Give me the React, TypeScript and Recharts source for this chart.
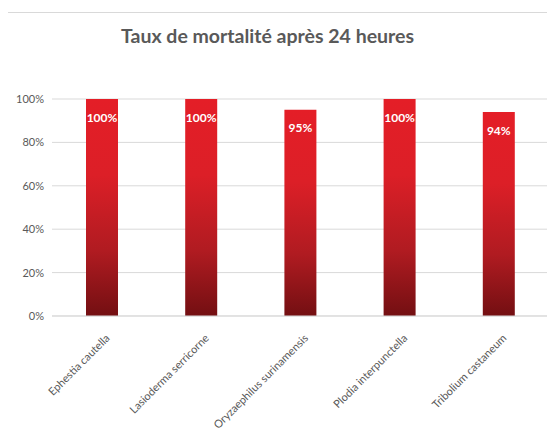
import { BarChart, Bar, XAxis, YAxis, CartesianGrid, LabelList, Customized } from "recharts";

const species = [
  "Ephestia cautella",
  "Lasioderma serricorne",
  "Oryzaephilus surinamensis",
  "Plodia interpunctella",
  "Tribolium castaneum",
];
const mortality = [1.0, 1.0, 0.95, 1.0, 0.94];
const yTicks = [0, 0.2, 0.4, 0.6, 0.8, 1.0];

const data = species.map((name, i) => ({ name, value: mortality[i] }));

const pct = (v: number) => `${Math.round(v * 100)}%`;

const font = "Lato, 'Open Sans', sans-serif";

function SpeciesTick({ x, y, payload }: any) {
  return (
    <g transform={`translate(${x + 6},${y + 12})`}>
      <text
        textAnchor="end"
        transform="rotate(-45)"
        fontSize={11}
        fill="#595959"
        fontFamily={font}
        dy={4}
      >
        {payload.value}
      </text>
    </g>
  );
}

function Frame() {
  return <path d="M5.5,437 V12.5 H555" fill="none" stroke="#d9d9d9" strokeWidth={1} />;
}

export default function App() {
  return (
    <div style={{ position: "relative", margin: -8, width: 555, height: 437, overflow: "hidden", background: "#fff" }}>
      <div
        style={{
          position: "absolute",
          left: 0,
          top: 24,
          width: 535,
          textAlign: "center",
          fontFamily: font,
          fontWeight: 700,
          fontSize: 19.5,
          color: "#595959",
        }}
      >
        Taux de mortalité après 24 heures
      </div>
      <div style={{ position: "absolute", left: 0, top: 0 }}>
        <BarChart
          width={555}
          height={437}
          data={data}
          margin={{ top: 99, right: 7, bottom: 0, left: 0 }}
        >
          <defs>
            <linearGradient id="redFade" x1="0" y1="0" x2="0" y2="1">
              <stop offset="0%" stopColor="#e41e27" />
              <stop offset="35%" stopColor="#dc1f27" />
              <stop offset="70%" stopColor="#b01b21" />
              <stop offset="100%" stopColor="#730f12" />
            </linearGradient>
          </defs>
          <Customized component={<Frame />} />
          <CartesianGrid vertical={false} stroke="#d9d9d9" />
          <XAxis
            dataKey="name"
            interval={0}
            tickLine={false}
            axisLine={{ stroke: "#d9d9d9" }}
            tick={<SpeciesTick />}
            height={121}
          />
          <YAxis
            width={52}
            domain={[0, 1]}
            ticks={yTicks}
            tickFormatter={pct}
            axisLine={false}
            tickLine={false}
            tick={{ fontSize: 11, fill: "#595959", fontFamily: font }}
          />
          <Bar dataKey="value" fill="url(#redFade)" barSize={32} isAnimationActive={false}>
            <LabelList
              dataKey="value"
              position="insideTop"
              offset={14}
              formatter={(v: any) => pct(v)}
              fill="#ffffff"
              fontSize={12}
              fontWeight={700}
              fontFamily={font}
            />
          </Bar>
        </BarChart>
      </div>
    </div>
  );
}
